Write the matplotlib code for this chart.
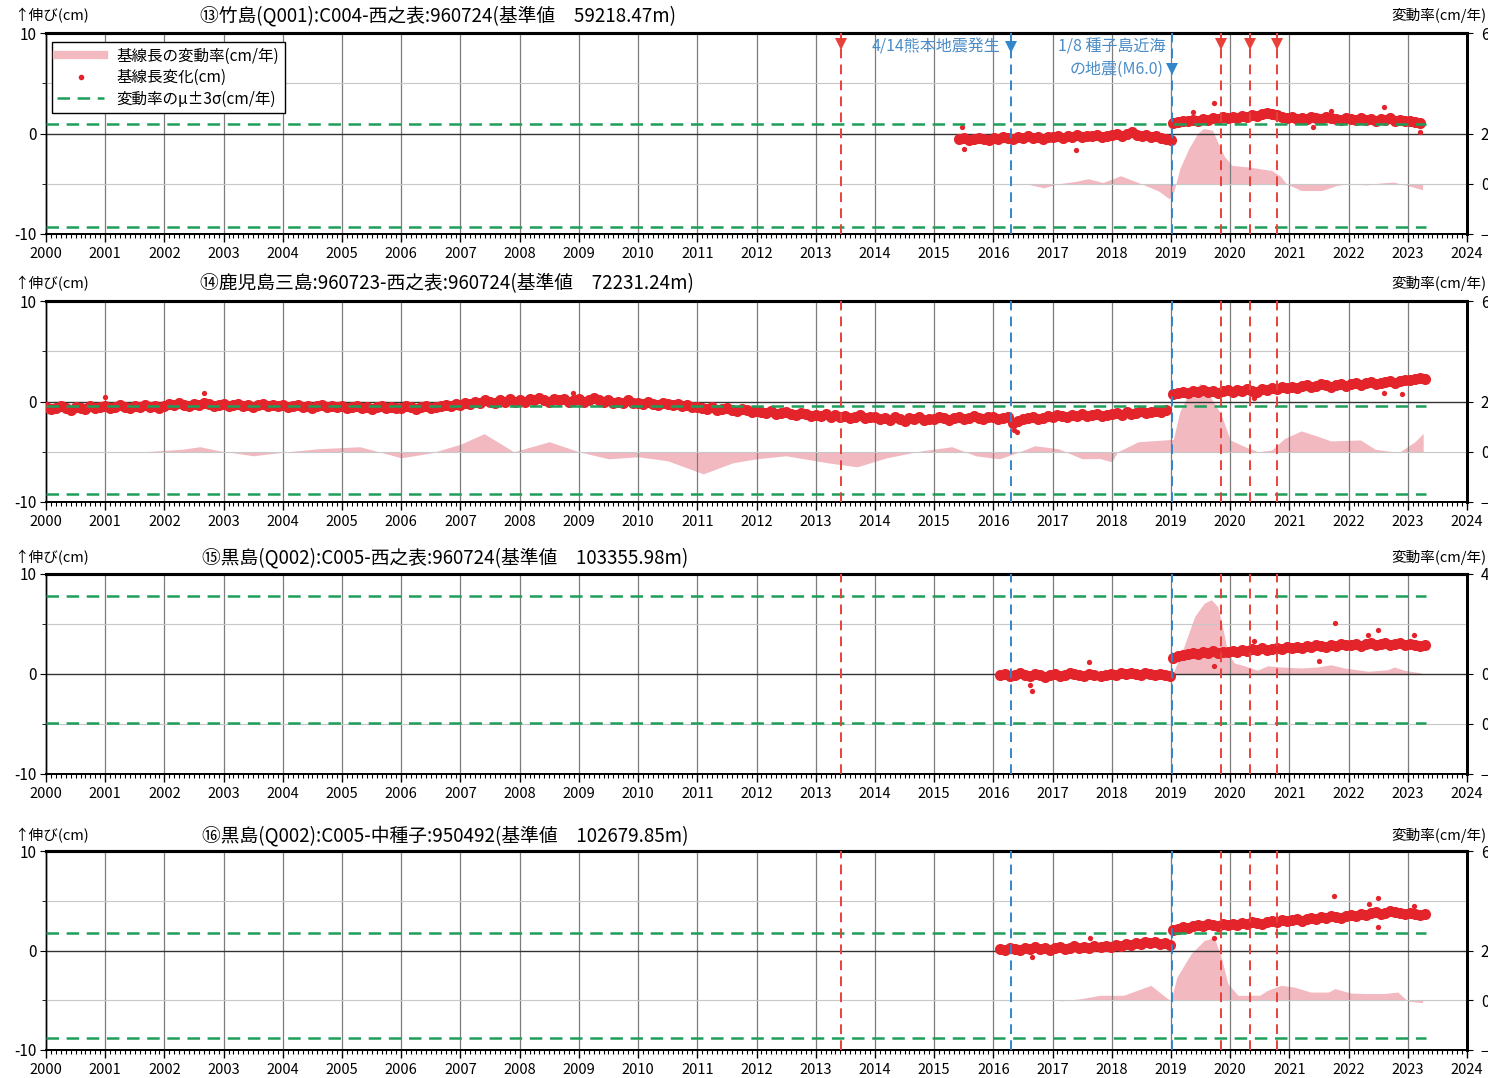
import numpy as np
import matplotlib.pyplot as plt
from matplotlib.lines import Line2D
from matplotlib.ticker import MultipleLocator

plt.rcParams['font.family'] = ['Noto Sans CJK JP', 'DejaVu Sans']
plt.rcParams['lines.scale_dashes'] = False

W, H = 1488, 1078

# ---- shared events (decimal years)
red_events = [2013.42, 2019.84, 2020.33, 2020.79]
blue_events = [2016.29, 2019.02]
years = list(range(2000, 2025))

titles = [
    "⑬竹島(Q001):C004-西之表:960724(基準値　59218.47m)",
    "⑭鹿児島三島:960723-西之表:960724(基準値　72231.24m)",
    "⑮黒島(Q002):C005-西之表:960724(基準値　103355.98m)",
    "⑯黒島(Q002):C005-中種子:950492(基準値　102679.85m)",
]

# ---- panel 13: monthly baseline change (cm), segments (start, values)
p13_segs = [
    (2015.42, [-0.5, -0.4, -0.6, -0.5, -0.4, -0.5, -0.6, -0.4,
               -0.5, -0.3, -0.4, -0.5, -0.3, -0.4, -0.2, -0.4, -0.3, -0.5, -0.3, -0.3,
               -0.2, -0.4, -0.2, -0.3, -0.1, -0.3, -0.2, -0.2, -0.1, -0.3, -0.2, -0.1,
               0.0, -0.2, 0.0, 0.1, -0.1, -0.2, -0.1, -0.3, -0.2, -0.4, -0.5, -0.6]),
    (2019.04, [1.0, 1.1, 1.2, 1.2, 1.3, 1.2, 1.4, 1.3, 1.5, 1.4, 1.6, 1.5,
               1.6, 1.5, 1.7, 1.6, 1.8, 1.7, 1.9, 2.0, 1.9, 1.8, 1.6, 1.5,
               1.6, 1.4, 1.5, 1.4, 1.6, 1.5, 1.4, 1.6, 1.5, 1.4, 1.3, 1.5,
               1.4, 1.3, 1.5, 1.3, 1.4, 1.2, 1.4, 1.3, 1.5, 1.2, 1.3, 1.2,
               1.2, 1.1, 1.0]),
]
p13_out_t = [2015.5, 2015.47, 2017.4, 2019.38, 2019.72, 2021.4, 2021.7, 2022.6, 2023.2]
p13_out_v = [-1.5, 0.6, -1.6, 2.1, 3.0, 0.6, 2.2, 2.6, 0.1]
p13_rate_t = [2016.35, 2016.6, 2016.85, 2017.1, 2017.4, 2017.6, 2017.85, 2018.15, 2018.5,
              2018.8, 2018.97, 2019.05, 2019.15, 2019.3, 2019.45, 2019.55, 2019.7, 2019.8,
              2019.9, 2020.03, 2020.3, 2020.5, 2020.7, 2020.85, 2020.95, 2021.2, 2021.55,
              2021.8, 2022.0, 2022.3, 2022.5, 2022.75, 2023.0, 2023.25]
p13_rate = [0.0, -0.03, -0.16, 0.0, 0.1, 0.2, 0.05, 0.32, 0.0,
            -0.3, -0.6, -0.3, 0.6, 1.4, 2.0, 2.2, 2.13, 1.6,
            1.1, 0.73, 0.67, 0.6, 0.53, 0.3, 0.0, -0.27, -0.27,
            -0.07, 0.0, -0.05, 0.02, 0.07, -0.07, -0.24]
p13_sigma = (0.9, -9.3)

# ---- panel 14
p14_segs = [
    (2000.0, [-0.5, -0.7, -0.6, -0.4, -0.6, -0.8, -0.5, -0.6, -0.7, -0.4, -0.6, -0.5,
              -0.4, -0.6, -0.5, -0.3, -0.5, -0.6, -0.4, -0.5, -0.3, -0.5, -0.4, -0.6,
              -0.4, -0.2, -0.3, -0.1, -0.3, -0.4, -0.2, -0.3, -0.1, -0.2, -0.4, -0.3,
              -0.2, -0.4, -0.3, -0.2, -0.4, -0.3, -0.5, -0.3, -0.2, -0.4, -0.3, -0.4,
              -0.3, -0.5, -0.4, -0.3, -0.5, -0.4, -0.6, -0.4, -0.3, -0.5, -0.4, -0.5,
              -0.4, -0.6, -0.5, -0.4, -0.6, -0.5, -0.7, -0.5, -0.4, -0.6, -0.5, -0.6,
              -0.6, -0.4, -0.5, -0.7, -0.5, -0.4, -0.6, -0.5, -0.4, -0.3, -0.4, -0.2,
              -0.3, -0.1, -0.2, 0.0, -0.1, 0.1, 0.0, -0.1, 0.1, 0.0, 0.2, 0.0,
              0.1, 0.0, 0.2, 0.1, 0.3, 0.1, 0.0, 0.2, 0.1, 0.2, 0.0, 0.1,
              0.2, 0.0, 0.1, 0.3, 0.1, 0.0, 0.1, -0.1, 0.0, -0.1, 0.1, -0.1,
              -0.1, -0.2, 0.0, -0.2, -0.3, -0.1, -0.2, -0.3, -0.2, -0.4, -0.3, -0.5,
              -0.5, -0.6, -0.7, -0.5, -0.8, -0.7, -0.6, -0.8, -0.9, -0.7, -0.8, -1.0,
              -0.9, -1.0, -1.1, -0.9, -1.2, -1.1, -1.0, -1.2, -1.3, -1.1, -1.2, -1.4,
              -1.3, -1.4, -1.2, -1.5, -1.3, -1.5, -1.4, -1.6, -1.5, -1.3, -1.6, -1.5,
              -1.5, -1.7, -1.6, -1.8, -1.5, -1.7, -1.9, -1.6, -1.7, -1.5, -1.8, -1.7,
              -1.7, -1.5, -1.6, -1.8, -1.6, -1.5, -1.7, -1.6, -1.4, -1.6, -1.7, -1.5,
              -1.5, -1.7, -1.6, -1.5, -2.1, -1.9, -1.7, -1.6, -1.5, -1.7, -1.6, -1.4,
              -1.5, -1.3, -1.4, -1.5, -1.3, -1.4, -1.2, -1.4, -1.3, -1.2, -1.4, -1.3,
              -1.2, -1.1, -1.3, -1.0, -1.2, -1.1, -0.9, -1.1, -1.0, -0.9, -1.0, -0.8]),
    (2019.04, [0.7, 0.8, 0.9, 0.8, 1.0, 0.9, 1.1, 0.9, 1.0, 0.8, 1.0, 1.1,
               0.9, 1.1, 1.0, 1.2, 1.0, 0.9, 1.2, 1.1, 1.3, 1.2, 1.4, 1.3,
               1.4, 1.3, 1.5, 1.6, 1.4, 1.5, 1.7, 1.6, 1.4, 1.6, 1.7, 1.5,
               1.7, 1.8, 1.6, 1.8, 1.9, 1.7, 1.8, 1.9, 2.0, 1.8, 2.0, 2.1,
               2.1, 2.2, 2.3, 2.2]),
]
p14_out_t = [2001.0, 2002.67, 2008.9, 2016.35, 2016.4, 2020.4, 2022.6, 2022.9]
p14_out_v = [0.4, 0.8, 0.8, -2.8, -3.0, 0.3, 0.8, 0.7]
p14_rate_t = [2000.0, 2001.5, 2002.3, 2002.6, 2002.9, 2003.5, 2004.0, 2004.6, 2005.3, 2006.0,
              2006.5, 2007.0, 2007.4, 2007.9, 2008.5, 2009.0, 2009.5, 2010.0, 2010.5, 2011.1,
              2011.6, 2012.0, 2012.5, 2013.2, 2013.7, 2014.2, 2014.8, 2015.3, 2015.7, 2016.1,
              2016.4, 2016.7, 2017.1, 2017.5, 2017.8, 2018.0, 2018.1, 2018.45, 2018.9, 2019.04,
              2019.15, 2019.3, 2019.5, 2019.68, 2019.85, 2020.0, 2020.25, 2020.47, 2020.7, 2020.92,
              2021.2, 2021.5, 2021.7, 2022.2, 2022.45, 2022.85, 2023.12, 2023.26]
p14_rate = [-0.02, -0.02, 0.1, 0.2, 0.05, -0.16, -0.02, 0.12, 0.2, -0.24,
            -0.05, 0.3, 0.72, 0.0, 0.4, 0.0, -0.28, -0.2, -0.36, -0.88,
            -0.44, -0.28, -0.16, -0.44, -0.6, -0.24, 0.04, 0.2, -0.16, -0.28,
            -0.04, 0.24, 0.12, -0.28, -0.27, -0.4, 0.0, 0.4, 0.47, 0.5,
            1.6, 2.3, 2.73, 2.13, 1.47, 0.47, 0.2, 0.0, 0.07, 0.53,
            0.83, 0.6, 0.43, 0.47, 0.1, -0.03, 0.4, 0.73]
p14_sigma = (-0.4, -9.2)

# ---- panel 15
p15_segs = [
    (2016.12, [-0.1, 0.0, -0.2, -0.1, 0.1, -0.1, -0.2, 0.0, -0.1, -0.3,
               -0.1, 0.0, -0.2, -0.1, 0.1, 0.0, -0.1, -0.2, 0.0, -0.1]),
    (2017.82, [-0.2, -0.1, 0.0, -0.1, 0.1, 0.0, 0.1, 0.0, -0.1, 0.1, 0.0, -0.1, 0.0, -0.1, -0.2]),
    (2019.04, [1.6, 1.8, 1.9, 2.0, 2.1, 2.0, 2.2, 2.1, 2.3, 2.1, 2.2, 2.2,
               2.3, 2.2, 2.4, 2.3, 2.5, 2.4, 2.6, 2.4, 2.5, 2.6, 2.5, 2.7,
               2.6, 2.7, 2.6, 2.8, 2.7, 2.9, 2.8, 2.7, 2.9, 2.8, 3.0, 2.9,
               2.9, 3.0, 2.8, 3.0, 3.1, 2.9, 3.0, 3.1, 2.9, 3.0, 3.1, 2.9,
               3.0, 2.9, 2.8, 2.9]),
]
p15_out_t = [2016.62, 2016.65, 2017.62, 2019.73, 2020.4, 2021.5, 2021.77, 2022.33, 2022.5, 2023.1]
p15_out_v = [-1.1, -1.7, 1.2, 0.8, 3.3, 1.3, 5.1, 3.9, 4.4, 3.9]
p15_rate_t = [2019.03, 2019.22, 2019.4, 2019.56, 2019.68, 2019.79, 2019.87, 2019.96, 2020.07,
              2020.24, 2020.46, 2020.63, 2020.86, 2021.2, 2021.48, 2021.7, 2021.93, 2022.33,
              2022.66, 2022.77, 2022.94, 2023.23]
p15_rate = [0.0, 1.1, 2.3, 2.83, 2.97, 2.7, 1.9, 0.84, 0.44,
            0.33, 0.15, 0.33, 0.28, 0.24, 0.28, 0.37, 0.24, 0.11,
            0.17, 0.28, 0.15, 0.04]
p15_sigma = (7.8, -4.9)

# ---- panel 16
p16_segs = [
    (2016.12, [0.2, 0.1, 0.3, 0.2, 0.1, 0.3, 0.2, 0.4, 0.2, 0.3,
               0.1, 0.3, 0.4, 0.2, 0.3, 0.5, 0.3, 0.4, 0.3, 0.5]),
    (2017.82, [0.4, 0.5, 0.4, 0.6, 0.5, 0.7, 0.6, 0.8, 0.7, 0.9, 0.8, 0.9, 0.7, 0.8, 0.6]),
    (2019.04, [2.1, 2.2, 2.4, 2.3, 2.5, 2.6, 2.5, 2.7, 2.6, 2.5, 2.7, 2.6,
               2.7, 2.6, 2.8, 2.7, 2.9, 2.8, 2.7, 2.9, 3.0, 2.9, 3.1, 3.0,
               3.1, 3.2, 3.0, 3.2, 3.3, 3.2, 3.4, 3.3, 3.5, 3.4, 3.3, 3.5,
               3.6, 3.5, 3.7, 3.6, 3.8, 3.9, 3.7, 3.8, 4.0, 3.9, 3.8, 3.7,
               3.8, 3.7, 3.6, 3.7]),
]
p16_out_t = [2016.66, 2017.63, 2019.72, 2021.75, 2022.35, 2022.5, 2022.5, 2023.1]
p16_out_v = [-0.7, 1.3, 1.3, 5.5, 4.7, 5.3, 2.4, 4.5]
p16_rate_t = [2017.14, 2017.5, 2017.8, 2018.2, 2018.66, 2018.94, 2019.0, 2019.1, 2019.34,
              2019.56, 2019.73, 2019.85, 2019.96, 2020.13, 2020.5, 2020.63, 2020.86, 2021.08,
              2021.36, 2021.66, 2021.77, 2022.04, 2022.3, 2022.6, 2022.83, 2023.0, 2023.25]
p16_rate = [-0.03, 0.07, 0.2, 0.2, 0.6, 0.07, 0.0, 0.93, 1.87,
            2.4, 2.53, 1.73, 0.67, 0.2, 0.2, 0.4, 0.6, 0.53,
            0.33, 0.33, 0.47, 0.29, 0.27, 0.27, 0.33, -0.03, -0.1]
p16_sigma = (1.8, -8.8)

panels = [
    dict(segs=p13_segs, out_t=p13_out_t, out_v=p13_out_v, rt=p13_rate_t, rv=p13_rate,
         sigma=p13_sigma, rlim=(-2, 6), rticks=[6, 2, 0, -2], rlabels=['6', '2', '0', '−'],
         box=(33, 234), ty=16, tx=200),
    dict(segs=p14_segs, out_t=p14_out_t, out_v=p14_out_v, rt=p14_rate_t, rv=p14_rate,
         sigma=p14_sigma, rlim=(-2, 6), rticks=[6, 2, 0, -2], rlabels=['6', '2', '0', '−'],
         box=(301, 502), ty=284, tx=200),
    dict(segs=p15_segs, out_t=p15_out_t, out_v=p15_out_v, rt=p15_rate_t, rv=p15_rate,
         sigma=p15_sigma, rlim=(-4, 4), rticks=[4, 0, -2, -4], rlabels=['4', '0', '0', '−'],
         box=(574, 774), ty=558, tx=202),
    dict(segs=p16_segs, out_t=p16_out_t, out_v=p16_out_v, rt=p16_rate_t, rv=p16_rate,
         sigma=p16_sigma, rlim=(-2, 6), rticks=[6, 2, 0, -2], rlabels=['6', '2', '0', '−'],
         box=(851, 1050), ty=836, tx=202),
]

RED = '#e3242b'
PINK = '#f3b9c1'
GREEN = '#1f9e5a'
BLUE = '#3186cc'
VRED = '#e8413a'

fig = plt.figure(figsize=(W / 100, H / 100), dpi=100)

for i, p in enumerate(panels):
    top, bot = p['box']
    ax = fig.add_axes([46 / W, 1 - bot / H, 1421 / W, (bot - top) / H])
    tw = ax.twinx()
    ax.set_zorder(tw.get_zorder() + 1)
    ax.patch.set_visible(False)

    # rate (pink fill) on right axis
    tw.set_ylim(*p['rlim'])
    tw.fill_between(p['rt'], 0, p['rv'], color=PINK, lw=0, zorder=1)
    tw.set_yticks(p['rticks'])
    tw.set_yticklabels(p['rlabels'], fontsize=11)
    tw.tick_params(axis='y', length=4, pad=6, width=0.8)

    ax.set_xlim(2000, 2024)
    ax.set_ylim(-10, 10)
    ax.set_xticks(years)
    ax.set_xticklabels([str(y) for y in years], fontsize=10.5)
    ax.xaxis.set_minor_locator(MultipleLocator(1 / 12))
    ax.tick_params(axis='x', which='major', length=6, width=1, pad=3)
    ax.tick_params(axis='x', which='minor', length=3, width=0.8)
    ax.set_yticks([-10, 0, 10])
    ax.set_yticklabels(['-10', '0', '10'], fontsize=11)
    ax.set_yticks([-5, 5], minor=True)
    ax.tick_params(axis='y', which='major', length=4, pad=3)
    ax.tick_params(axis='y', which='minor', length=3)

    for y in years[1:-1]:
        ax.axvline(y, color='#7c7c7c', lw=0.9, zorder=1)
    ax.axhline(5, color='#c8c8c8', lw=0.8, zorder=1)
    ax.axhline(-5, color='#c8c8c8', lw=0.8, zorder=1)
    ax.axhline(0, color='#333333', lw=1.0, zorder=1)

    for s in (ax.spines, tw.spines):
        s['top'].set_linewidth(2.2)
        s['right'].set_linewidth(2.0)
        s['left'].set_linewidth(1.0)
        s['bottom'].set_linewidth(1.3)

    # baseline change dots
    for t0, vals in p['segs']:
        t = t0 + np.arange(len(vals)) / 12
        ax.plot(t, vals, 'o', ms=8, color=RED, mew=0, zorder=3)
    ax.plot(p['out_t'], p['out_v'], 'o', ms=3.8, color=RED, mew=0, zorder=3)

    # mu +- 3 sigma
    for lev in p['sigma']:
        ax.plot([2000, 2023.3], [lev, lev], color=GREEN, lw=1.8, dashes=(9, 5.5), zorder=4)

    # event lines
    for x in red_events:
        ax.axvline(x, color=VRED, lw=1.4, dashes=(7, 4.5), zorder=5)
    for x in blue_events:
        ax.axvline(x, color=BLUE, lw=1.4, dashes=(7, 4.5), zorder=5)

    fig.text(p['tx'] / W, 1 - p['ty'] / H, titles[i], fontsize=13.5, va='center', ha='left')
    fig.text(14 / W, 1 - p['ty'] / H, "↑伸び(cm)", fontsize=10.5, va='center', ha='left')
    fig.text(1486 / W, 1 - (p['ty'] - 1) / H, "変動率(cm/年)", fontsize=10.5, va='center', ha='right')

    if i == 0:
        for x in red_events:
            ax.plot(x, 8.9, marker='v', ms=9, color=VRED, mew=0, zorder=6)
        ax.plot(blue_events[0], 8.6, marker='v', ms=9, color=BLUE, mew=0, zorder=6)
        ax.plot(blue_events[1], 6.4, marker='v', ms=9, color=BLUE, mew=0, zorder=6)
        ax.text(2016.12, 8.6, "4/14熊本地震発生", ha='right', va='center', color='#4a8cc8', fontsize=11.5, zorder=6)
        ax.text(2018.9, 8.6, "1/8 種子島近海", ha='right', va='center', color='#4a8cc8', fontsize=11.5, zorder=6)
        ax.text(2018.87, 6.4, "の地震(M6.0)", ha='right', va='center', color='#4a8cc8', fontsize=11.5, zorder=6)

        handles = [
            Line2D([], [], color=PINK, lw=6),
            Line2D([], [], color=RED, marker='o', ms=3, lw=0),
            Line2D([], [], color=GREEN, lw=1.8, dashes=(9, 5.5)),
        ]
        labels = ["基線長の変動率(cm/年)", "基線長変化(cm)", "変動率のμ±3σ(cm/年)"]
        leg = ax.legend(handles, labels, loc='upper left', bbox_to_anchor=(0.002, 0.97),
                        fontsize=11.2, frameon=True, fancybox=False, framealpha=1,
                        edgecolor='black', handlelength=3.0, labelspacing=0.3,
                        borderpad=0.35, handletextpad=0.8, borderaxespad=0.2)
        leg.get_frame().set_linewidth(1.0)
        leg.set_zorder(10)

fig.savefig('out.png', dpi=100)
